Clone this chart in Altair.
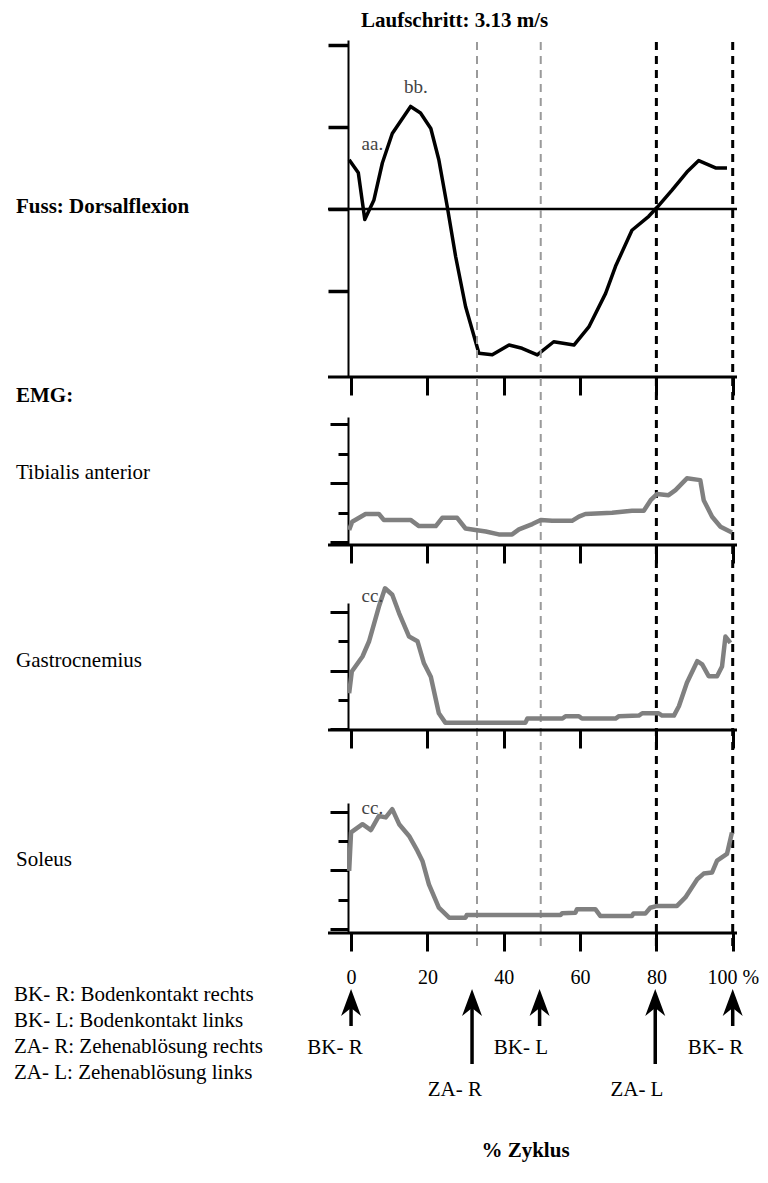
import altair as alt
import pandas as pd

# ---------------- data ----------------
tick_x = [0, 20, 40, 60, 80, 100]

foot_x = [-0.5, 1.9, 3.6, 6.0, 8.2, 10.8, 15.6, 18.2, 20.9, 23.0, 25.2, 27.4, 30.0, 33.5, 37.0,
          41.4, 44.8, 48.8, 53.1, 58.4, 62.3, 66.7, 69.3, 73.6, 78.0, 80.2, 84.1, 88.0, 91.1, 95.5, 98.5]
foot_y = [6.0, 4.4, -1.3, 1.1, 5.6, 9.2, 12.5, 11.7, 9.8, 6.0, 0.3, -5.8, -11.9, -17.6, -17.8,
          -16.6, -17.0, -17.8, -16.2, -16.6, -14.4, -10.3, -7.0, -2.6, -0.9, 0.2, 2.3, 4.5, 5.9, 5.0, 5.0]

tib_x = [-0.5, 0.3, 3.8, 7.3, 8.6, 15.6, 17.8, 22.2, 23.9, 27.8, 30.0, 32.6, 35.3, 38.7, 42.2, 44.0,
         47.5, 49.7, 52.7, 57.9, 59.7, 61.4, 68.4, 73.6, 76.7, 78.5, 80.2, 83.2, 85.0, 88.0, 91.5,
         92.4, 94.6, 96.8, 99.8]
tib_y = [0.41, 0.69, 0.95, 0.95, 0.75, 0.75, 0.54, 0.54, 0.82, 0.82, 0.46, 0.41, 0.36, 0.26, 0.26, 0.43,
         0.61, 0.75, 0.72, 0.72, 0.86, 0.95, 0.99, 1.06, 1.06, 1.42, 1.63, 1.59, 1.76, 2.16, 2.10,
         1.42, 0.86, 0.52, 0.32]

gas_x = [-0.5, 0.2, 3.0, 4.7, 7.3, 8.9, 10.8, 12.6, 15.2, 17.4, 19.1, 20.9, 23.0, 24.7, 45.7, 46.2,
         55.4, 56.2, 59.7, 60.5, 69.3, 70.2, 75.4, 76.3, 80.6, 81.5, 84.6, 85.9, 88.0, 90.7, 92.0,
         93.7, 95.9, 97.2, 98.1, 99.4]
gas_y = [1.23, 1.97, 2.48, 2.99, 4.18, 4.80, 4.58, 3.95, 3.16, 3.0, 2.25, 1.79, 0.55, 0.23, 0.23, 0.37,
         0.37, 0.45, 0.45, 0.37, 0.37, 0.45, 0.47, 0.55, 0.55, 0.47, 0.47, 0.79, 1.59, 2.32, 2.21,
         1.81, 1.81, 2.14, 3.16, 2.94]

sol_x = [-0.5, 0.0, 3.0, 5.2, 7.3, 9.1, 10.8, 12.6, 15.2, 17.4, 18.7, 20.4, 23.0, 25.7, 30.0, 30.3,
         54.9, 55.3, 58.8, 59.2, 64.0, 65.3, 73.6, 74.0, 77.1, 78.4, 80.2, 85.4, 87.6, 90.7, 92.4,
         94.6, 95.9, 98.5, 99.8]
sol_y = [1.98, 3.29, 3.57, 3.37, 3.85, 3.80, 4.08, 3.57, 3.17, 2.66, 2.32, 1.52, 0.73, 0.39, 0.39, 0.48,
         0.48, 0.54, 0.56, 0.68, 0.68, 0.45, 0.45, 0.53, 0.53, 0.73, 0.79, 0.79, 1.08, 1.70, 1.89,
         1.93, 2.33, 2.56, 3.29]

# events (gait phases)
dash_gray_x = [33.0, 49.7]
dash_black_x = [80.0, 100.0]
arrow_x = [0.0, 31.7, 49.4, 79.7, 100.0]
arrow_kind = ["BK", "ZA", "BK", "ZA", "BK"]
arrow_label = ["BK- R", "ZA- R", "BK- L", "ZA- L", "BK- R"]
arrow_label_x = [-4.2, 27.2, 44.5, 74.9, 95.5]

foot_ann_x = [5.6, 17.0]
foot_ann_y = [7.2, 14.1]
foot_ann_t = ["aa.", "bb."]
gas_ann = (5.6, 4.33, "cc.")
sol_ann = (5.6, 3.92, "cc.")

title_text = "Laufschritt: 3.13 m/s"
panel_labels = ["Fuss: Dorsalflexion", "EMG:", "Tibialis anterior", "Gastrocnemius", "Soleus"]
legend_lines = ["BK- R: Bodenkontakt rechts", "BK- L: Bodenkontakt links",
                "ZA- R: Zehenablösung rechts", "ZA- L: Zehenablösung links"]
x_title = "% Zyklus"

# ---------------- styling ----------------
FONT = "Liberation Serif"
FS = 21
W = 387
X_DOM = [-0.8, 100.6]
EMG_GRAY = "#808080"
LABEL_X = -332


def xs():
    return alt.Scale(domain=X_DOM, nice=False, zero=False)


def x_axis(show_labels=False):
    if show_labels:
        return alt.Axis(values=tick_x, title=x_title, grid=False, domain=False,
                        tickSize=18, tickWidth=3, tickColor="black",
                        labelExpr="datum.value == 100 ? '100 %' : datum.label",
                        labelFont=FONT, labelFontSize=20, labelColor="black",
                        labelBaseline="alphabetic", labelPadding=32,
                        labelFlush=False, labelOverlap=False,
                        titleFont=FONT, titleFontSize=FS, titleFontWeight="bold",
                        titleColor="black", titleX=177, titleY=223,
                        titleBaseline="alphabetic", titleAlign="center")
    return alt.Axis(values=tick_x, labels=False, title=None, grid=False, domain=False,
                    tickSize=18, tickWidth=3, tickColor="black")


def one_row(**kw):
    return pd.DataFrame({k: [v] for k, v in kw.items()})


def text_at(text, x, y, bold=False, size=FS):
    return alt.Chart(one_row(t=text)).mark_text(
        font=FONT, fontSize=size, fontWeight="bold" if bold else "normal",
        align="left", baseline="alphabetic", color="black"
    ).encode(x=alt.value(x), y=alt.value(y), text="t:N")


def bottom_line(H):
    return alt.Chart(one_row(v=0)).mark_rule(color="black", strokeWidth=3).encode(
        x=alt.value(-20), x2=alt.value(W + 2), y=alt.value(H))


# ---------------- panel 1: foot ----------------
H1 = 337
ys1 = alt.Scale(domain=[-20.5, 20.6], nice=False, zero=False)
ax1_x = x_axis()
ax1_y = alt.Axis(values=[-10, 0, 10, 20], labels=False, title=None, grid=False, tickSize=20,
                 tickWidth=3.5, tickColor="black", domainColor="black", domainWidth=2)


def X1(field):
    return alt.X(field, scale=xs(), axis=ax1_x)


def Y1(field):
    return alt.Y(field, scale=ys1, axis=ax1_y)


foot_df = pd.DataFrame({"x": foot_x, "y": foot_y})
foot_line = alt.Chart(foot_df).mark_line(color="black", strokeWidth=3.5, strokeJoin="round").encode(
    x=X1("x:Q"), y=Y1("y:Q"))
zero_line = alt.Chart(pd.DataFrame({"y": [0]})).mark_rule(color="black", strokeWidth=2.5).encode(
    y=Y1("y:Q"), x=alt.value(-20), x2=alt.value(W + 2))
foot_ann = alt.Chart(pd.DataFrame({"x": foot_ann_x, "y": foot_ann_y, "t": foot_ann_t})).mark_text(
    font=FONT, fontSize=19, color="#444444", align="center", baseline="alphabetic").encode(
    x=X1("x:Q"), y=Y1("y:Q"), text="t:N")
dash_gray = alt.Chart(pd.DataFrame({"x": dash_gray_x})).mark_rule(
    color="#9a9a9a", strokeWidth=2, strokeDash=[8, 6]).encode(
    x=X1("x:Q"), y=alt.value(2), y2=alt.value(912))
dash_black = alt.Chart(pd.DataFrame({"x": dash_black_x})).mark_rule(
    color="black", strokeWidth=3, strokeDash=[8, 6]).encode(
    x=X1("x:Q"), y=alt.value(2), y2=alt.value(912))

p1 = alt.layer(
    foot_line, zero_line, bottom_line(H1), foot_ann, dash_gray, dash_black,
    text_at(title_text, 13, -13, bold=True),
    text_at(panel_labels[0], LABEL_X, 173, bold=True),
).properties(width=W, height=H1)


# ---------------- EMG panels ----------------
def emg_panel(xv, yv, H, ydom, labels, ann=None, show_x_labels=False, extra_fn=None):
    ysc = alt.Scale(domain=ydom, nice=False, zero=False)
    axx = x_axis(show_x_labels)
    axy = alt.Axis(values=[0, 1, 2, 3, 4], labels=False, title=None, grid=False,
                   tickSize={"condition": {"test": "datum.value % 2 === 0", "value": 18}, "value": 10},
                   tickWidth=3, tickColor="black", domainColor="black", domainWidth=2)

    def X(field):
        return alt.X(field, scale=xs(), axis=axx)

    def Y(field):
        return alt.Y(field, scale=ysc, axis=axy)

    df = pd.DataFrame({"x": xv, "y": yv})
    line = alt.Chart(df).mark_line(color=EMG_GRAY, strokeWidth=4.5, strokeJoin="round").encode(
        x=X("x:Q"), y=Y("y:Q"))
    layers = [line, bottom_line(H)]
    if ann is not None:
        layers.append(alt.Chart(pd.DataFrame({"x": [ann[0]], "y": [ann[1]], "t": [ann[2]]})).mark_text(
            font=FONT, fontSize=19, color="#444444", align="center", baseline="alphabetic").encode(
            x=X("x:Q"), y=Y("y:Q"), text="t:N"))
    for (t, yy, b) in labels:
        layers.append(text_at(t, LABEL_X, yy, bold=b))
    if extra_fn is not None:
        layers.extend(extra_fn(X))
    return alt.layer(*layers).properties(width=W, height=H)


p2 = emg_panel(tib_x, tib_y, 128, [-0.1, 4.24],
               [(panel_labels[1], -15, True), (panel_labels[2], 62, False)])
p3 = emg_panel(gas_x, gas_y, 127, [-0.02, 4.3],
               [(panel_labels[3], 64, False)], ann=gas_ann)

# arrows and legend below the last panel
ev = pd.DataFrame({"x": arrow_x, "kind": arrow_kind, "label": arrow_label, "lx": arrow_label_x})
arrow_path = "M0,-1 L0.74,1 L0,0.4 L-0.74,1 Z"


def arrow_layers(X):
    shaft_bk = alt.Chart(ev).transform_filter("datum.kind == 'BK'").mark_rule(
        color="black", strokeWidth=3.5).encode(x=X("x:Q"), y=alt.value(200), y2=alt.value(223))
    shaft_za = alt.Chart(ev).transform_filter("datum.kind == 'ZA'").mark_rule(
        color="black", strokeWidth=3.5).encode(x=X("x:Q"), y=alt.value(200), y2=alt.value(261))
    heads = alt.Chart(ev).mark_point(shape=arrow_path, filled=True, size=729, color="black",
                                     opacity=1, strokeWidth=0).encode(x=X("x:Q"), y=alt.value(199.5))
    lab_bk = alt.Chart(ev).transform_filter("datum.kind == 'BK'").mark_text(
        font=FONT, fontSize=FS, color="black", align="center", baseline="alphabetic").encode(
        x=X("lx:Q"), y=alt.value(251), text="label:N")
    lab_za = alt.Chart(ev).transform_filter("datum.kind == 'ZA'").mark_text(
        font=FONT, fontSize=FS, color="black", align="center", baseline="alphabetic").encode(
        x=X("lx:Q"), y=alt.value(293), text="label:N")
    legend = alt.Chart(one_row(t="\n".join(legend_lines))).mark_text(
        font=FONT, fontSize=FS, color="black", align="left", baseline="alphabetic",
        lineBreak="\n", lineHeight=26).encode(x=alt.value(-334), y=alt.value(198), text="t:N")
    return [shaft_bk, shaft_za, heads, lab_bk, lab_za, legend]


p4 = emg_panel(sol_x, sol_y, 130, [-0.13, 4.29],
               [(panel_labels[4], 63, False)], ann=sol_ann, show_x_labels=True,
               extra_fn=arrow_layers)

inner = alt.vconcat(p3, p4, spacing=73, bounds="flush")
mid = alt.vconcat(p2, inner, spacing=58, bounds="flush")
chart = alt.vconcat(p1, mid, spacing=40, bounds="flush").properties(
    padding={"left": 6, "top": 2, "right": 0, "bottom": 4},
    background="white",
).configure_view(stroke=None)

chart.save("out.html", embed_options={"renderer": "svg", "actions": False})
